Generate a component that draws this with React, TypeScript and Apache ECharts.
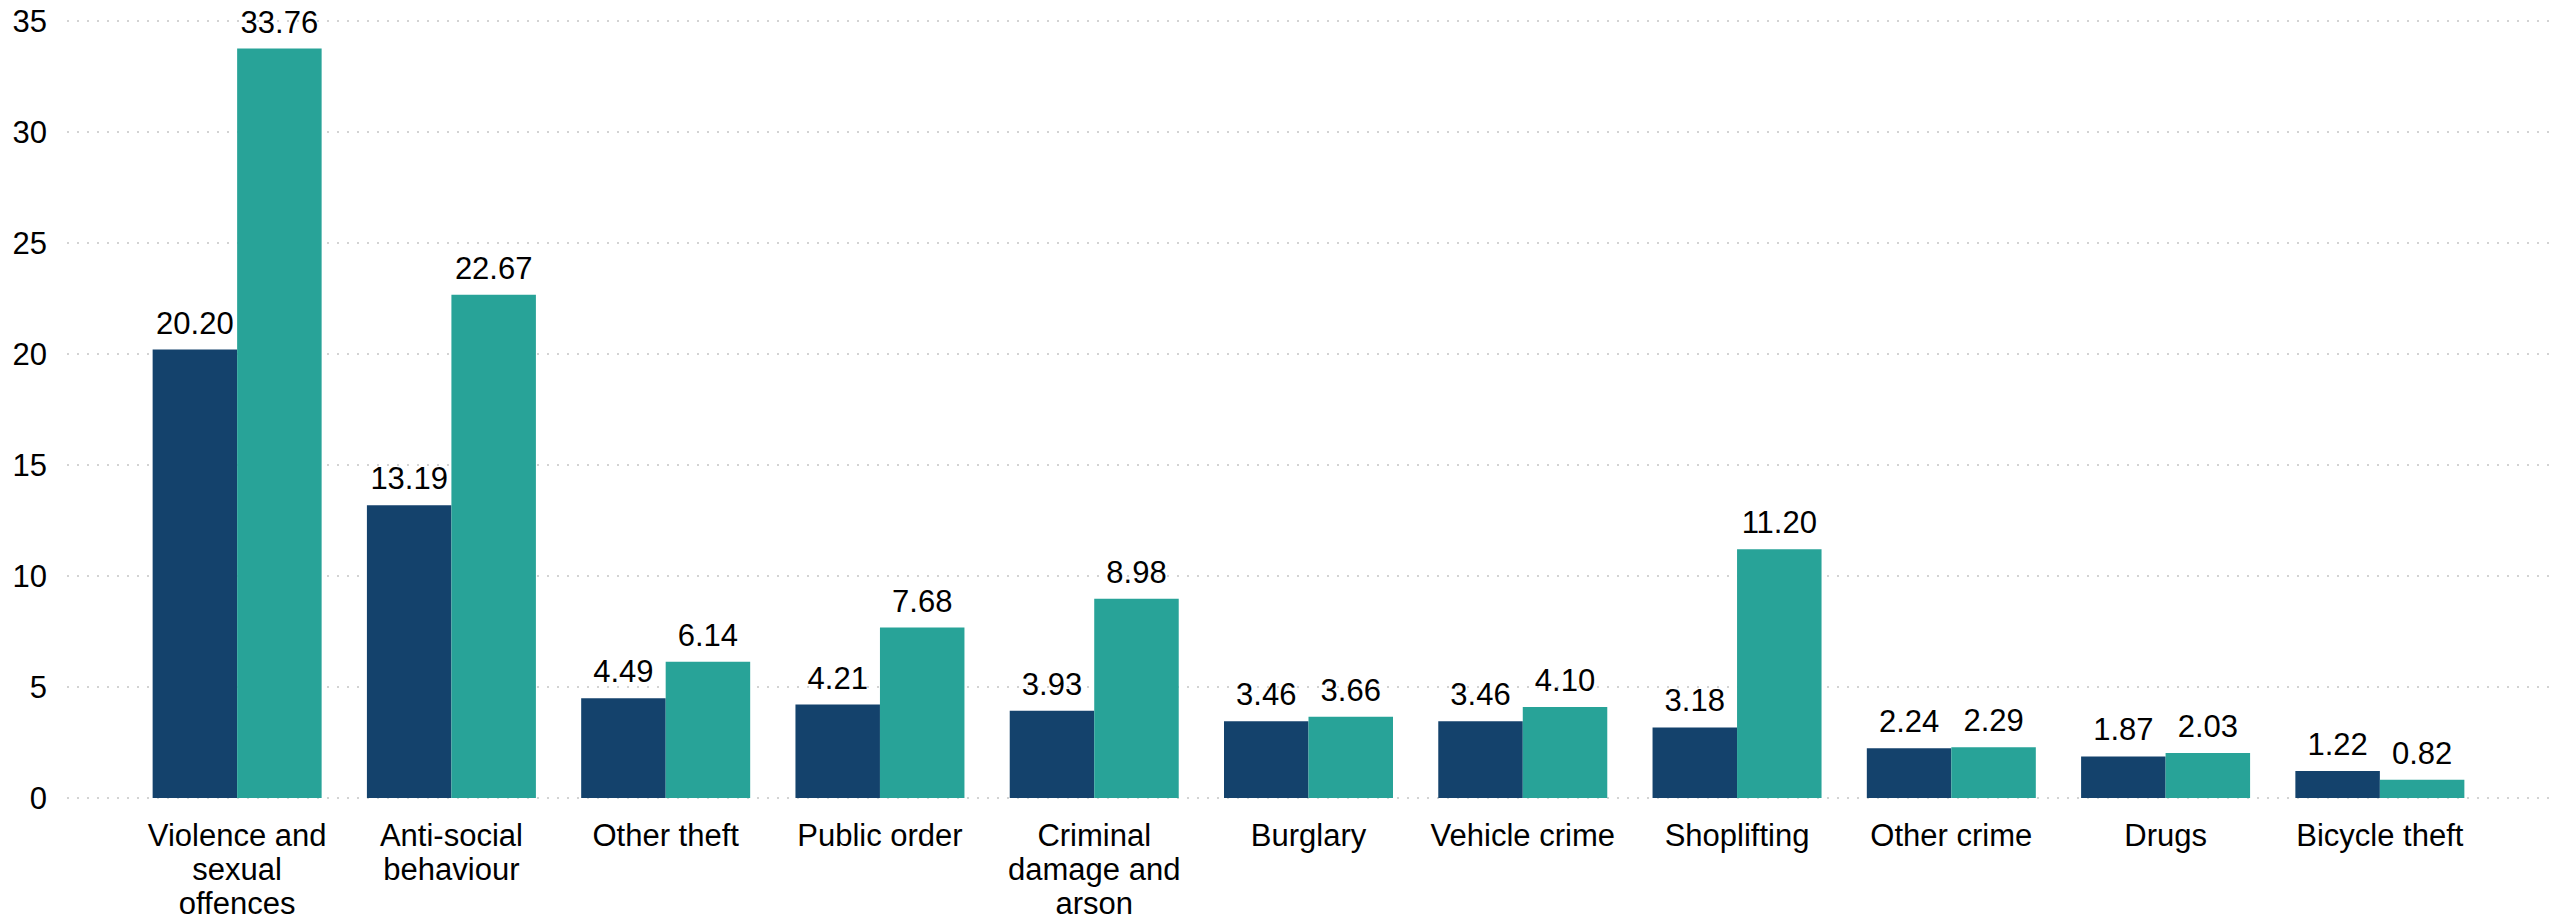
import React, { useEffect, useRef } from "react";
import * as echarts from "echarts";

const categories = [
  "Violence and sexual offences",
  "Anti-social behaviour",
  "Other theft",
  "Public order",
  "Criminal damage and arson",
  "Burglary",
  "Vehicle crime",
  "Shoplifting",
  "Other crime",
  "Drugs",
  "Bicycle theft",
];
const categoryLabels: Record<string, string> = {
  "Violence and sexual offences": "Violence and\nsexual\noffences",
  "Anti-social behaviour": "Anti-social\nbehaviour",
  "Criminal damage and arson": "Criminal\ndamage and\narson",
};
const seriesA = [20.2, 13.19, 4.49, 4.21, 3.93, 3.46, 3.46, 3.18, 2.24, 1.87, 1.22];
const seriesB = [33.76, 22.67, 6.14, 7.68, 8.98, 3.66, 4.1, 11.2, 2.29, 2.03, 0.82];
const yMin = 0;
const yMax = 35;
const yInterval = 5;

const FONT = "'Liberation Sans', Arial, sans-serif";

export default function App() {
  const ref = useRef<HTMLDivElement>(null);
  useEffect(() => {
    if (!ref.current) return;
    const chart = echarts.init(ref.current, null, { renderer: "svg" });
    const label = {
      show: true,
      position: "top" as const,
      distance: 11,
      fontSize: 31,
      fontFamily: FONT,
      color: "#000",
      formatter: (p: any) => Number(p.value).toFixed(2),
    };
    chart.setOption({
      animation: false,
      backgroundColor: "#fff",
      textStyle: { fontFamily: FONT },
      grid: [
        { left: 67, right: 7, top: 21, bottom: 122 },
        { left: 130, right: 70, top: 21, bottom: 122 },
      ],
      xAxis: [
        { type: "value", gridIndex: 0, show: false, min: 0, max: 1 },
        {
          type: "category",
          gridIndex: 1,
          data: categories,
          axisLine: { show: false },
          axisTick: { show: false },
          axisLabel: {
            interval: 0,
            margin: 20,
            fontSize: 31,
            lineHeight: 34,
            color: "#000",
            fontFamily: FONT,
            formatter: (v: string) => categoryLabels[v] ?? v,
          },
        },
      ],
      yAxis: [
        {
          type: "value",
          gridIndex: 0,
          min: yMin,
          max: yMax,
          interval: yInterval,
          axisLine: { show: false },
          axisTick: { show: false },
          axisLabel: { fontSize: 31, color: "#000", margin: 20, fontFamily: FONT },
          splitLine: {
            show: true,
            lineStyle: { color: "#d3d3d3", width: 2, type: [2, 8] },
          },
        },
        {
          type: "value",
          gridIndex: 1,
          min: yMin,
          max: yMax,
          interval: yInterval,
          show: false,
          splitLine: { show: false },
        },
      ],
      series: [
        {
          type: "bar",
          xAxisIndex: 1,
          yAxisIndex: 1,
          data: seriesA,
          barWidth: 84.5,
          barGap: "0%",
          itemStyle: { color: "#14426C" },
          label,
        },
        {
          type: "bar",
          xAxisIndex: 1,
          yAxisIndex: 1,
          data: seriesB,
          barWidth: 84.5,
          barGap: "0%",
          itemStyle: { color: "#28A398" },
          label,
        },
      ],
    });
    return () => chart.dispose();
  }, []);
  return (
    <div
      ref={ref}
      style={{ position: "fixed", left: 0, top: 0, width: 2557, height: 920 }}
    />
  );
}
